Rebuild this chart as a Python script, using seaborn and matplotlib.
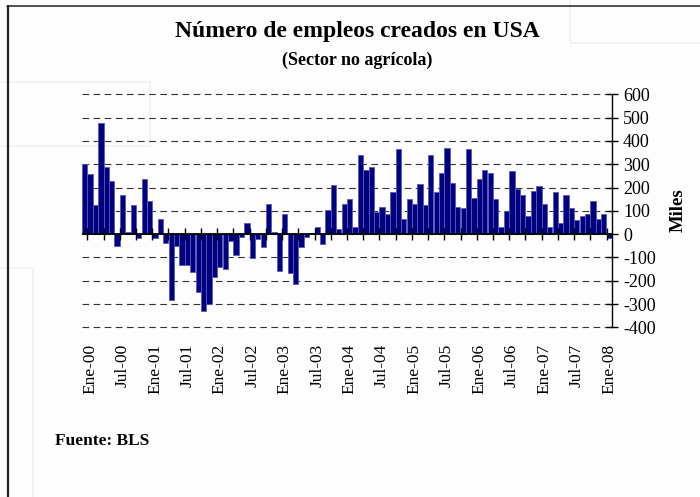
import matplotlib
matplotlib.use("Agg")
import numpy as np
import pandas as pd
import matplotlib.pyplot as plt
import seaborn as sns
from matplotlib.lines import Line2D
from matplotlib.patches import Rectangle

# meses en español, serie mensual Dic-99 .. Ene-08
meses = ["Ene", "Feb", "Mar", "Abr", "May", "Jun", "Jul", "Ago", "Sep", "Oct", "Nov", "Dic"]
periodos = ["Dic-99"] + [f"{m}-{a:02d}" for a in range(0, 8) for m in meses] + ["Ene-08"]

# miles de empleos creados
empleos = [
    300,
    256, 123, 477, 289, 230, -49, 169, 11, 126, -17, 237, 143,        # 2000
    -17, 66, -37, -284, -49, -134, -134, -163, -249, -329, -299, -184,  # 2001
    -141, -151, -31, -89, -13, 49, -103, -20, -57, 130, 11, -157,       # 2002
    86, -166, -216, -57, -13, 5, 29, -43, 104, 209, 23, 130,            # 2003
    149, 29, 339, 276, 289, 94, 117, 86, 180, 364, 67, 150,             # 2004
    131, 213, 126, 339, 180, 263, 370, 219, 117, 111, 364, 156,         # 2005
    237, 276, 263, 150, 29, 100, 269, 193, 169, 79, 187, 206,           # 2006
    131, 29, 180, 49, 169, 110, 60, 79, 86, 143, 67, 86,                # 2007
    -17,                                                                # 2008
]

df = pd.DataFrame({"periodo": periodos, "empleos": empleos})

sns.set_style("white")
plt.rcParams["font.family"] = ["Liberation Serif", "DejaVu Serif"]
plt.rcParams["axes.unicode_minus"] = False
plt.rcParams["text.color"] = "black"
plt.rcParams["xtick.color"] = "black"
plt.rcParams["ytick.color"] = "black"

fig = plt.figure(figsize=(7, 4.97), dpi=100, facecolor="#fdfdfd")
ax = fig.add_axes([0.1171, 0.3414, 0.7571, 0.4688])
ax.set_facecolor("none")
ax.set_axisbelow(True)

sns.barplot(data=df, x="periodo", y="empleos", color="#000080", saturation=1,
            width=0.97, edgecolor="#5a5ab4", linewidth=0.6, ax=ax, zorder=3)

ax.set_xlim(-0.5, len(periodos) - 0.5)
ax.set_ylim(-400, 600)
ax.set_yticks(range(-400, 601, 100))
ax.yaxis.tick_right()
ax.tick_params(axis="y", direction="inout", length=8, width=1, labelsize=13, pad=4,
               colors="black")
ax.yaxis.grid(True, color="#333333", linestyle=(0, (6, 4)), lw=0.8)
ax.xaxis.grid(False)
for g in ax.get_ygridlines():
    g.set_clip_on(False)

idx = list(range(1, len(periodos), 6))
ax.set_xticks(idx)
ax.set_xticklabels([periodos[i] for i in idx], rotation=90, fontsize=12.5, color="black")
ax.tick_params(axis="x", length=0, pad=12)
ax.set_xlabel("")
ax.set_ylabel("")

for s in ["left", "top", "bottom"]:
    ax.spines[s].set_visible(False)
ax.spines["right"].set_color("black")
ax.spines["right"].set_linewidth(1)

# eje en cero con marcas cada trimestre
ax.axhline(0, color="black", lw=1.3, zorder=4)
marcas = np.arange(0.5, len(periodos) - 1, 3)
ax.plot(marcas, np.zeros_like(marcas), ls="none", marker="|", ms=8, mew=1,
        color="black", zorder=5, clip_on=False)

fig.text(0.51, 1 - 32 / 497, "Número de empleos creados en USA", ha="center", va="center",
         fontsize=17, fontweight="bold", color="black")
fig.text(0.51, 1 - 60 / 497, "(Sector no agrícola)", ha="center", va="center",
         fontsize=13, fontweight="bold", color="black")
fig.text(0.969, 1 - 210 / 497, "Miles", rotation=90, ha="center", va="center",
         fontsize=13.5, fontweight="bold", color="black")
fig.text(55 / 700, 1 - 441 / 497, "Fuente: BLS", ha="left", va="center",
         fontsize=12.5, fontweight="bold", color="black")

# marco y recuadros tenues del fondo
for r in [(570 / 700, 1 - 43 / 497, 0.2, 0.1), (-0.01, 1 - 146 / 497, 157 / 700, 64 / 497),
          (-0.01, -0.01, 40 / 700, 1 - 263 / 497)]:
    fig.add_artist(Rectangle(r[:2], r[2], r[3], transform=fig.transFigure, fill=False,
                             edgecolor="#f0f0f0", lw=1.2, zorder=0))
fig.add_artist(Line2D([7.5 / 700, 7.5 / 700], [0, 1 - 5.5 / 497], transform=fig.transFigure,
                      color="#222222", lw=1.6))
fig.add_artist(Line2D([7 / 700, 1], [1 - 5.5 / 497, 1 - 5.5 / 497], transform=fig.transFigure,
                      color="#222222", lw=1.1))

fig.savefig("out.png", dpi=100, facecolor=fig.get_facecolor())
